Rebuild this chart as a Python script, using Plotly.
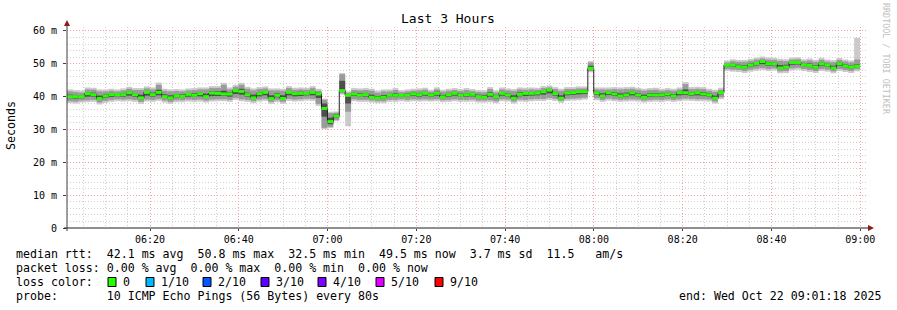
import plotly.graph_objects as go
import pandas as pd

# ---------------- data ----------------
start = pd.Timestamp("2025-10-22 06:01:18")
end = pd.Timestamp("2025-10-22 09:01:18")
step_s = 80

median_ms = [
    40.0, 40.0, 40.0, 40.9, 40.6, 39.4, 40.2, 40.6, 40.6, 40.6, 41.2, 40.6, 39.6, 41.3, 40.6, 41.3, 40.0, 39.6, 40.3, 40.1, 40.7, 40.4, 40.9,
    40.0, 41.1, 41.0, 40.8, 40.8, 41.8, 41.6, 40.6, 39.6, 40.9, 41.3, 39.4, 40.4, 39.4, 41.3, 40.9, 41.0, 41.0, 41.3, 40.8,
    36.4, 32.4, 34.1, 41.8,
    40.4, 40.8, 40.4, 40.6, 39.8, 39.6, 39.8, 40.4, 40.4, 40.4, 40.4, 40.8, 40.6, 41.0, 40.5, 41.0, 39.9, 40.6, 41.0, 40.4, 40.6,
    40.7, 40.0, 39.8, 40.7, 40.0, 41.0, 40.5, 39.5, 40.7, 41.0, 41.0, 41.1, 41.5, 42.0, 40.9, 39.5, 41.1, 41.2, 41.5, 41.5,
    48.6,
    41.1, 40.2,
    41.2, 40.8, 40.2, 40.5, 41.2, 40.5, 39.8, 40.5, 40.5, 40.5, 40.8, 40.2, 41.2, 41.2, 40.9, 41.2, 40.8, 40.5, 39.5, 41.2,
    49.6, 49.6, 49.1, 49.0, 49.6, 50.1, 50.7, 50.0, 50.0, 48.7, 49.0, 50.4, 50.4, 49.6, 49.5, 49.0, 50.0, 49.6, 48.7, 50.0, 49.3, 49.0, 49.3,
]

# outer smoke: slowest / fastest ping relative to the median (ms)
outer_up_ms = [
    2.2, 2.0, 1.8, 1.9, 2.1, 2.8, 2.0, 1.8, 1.6, 1.9, 1.8, 2.0, 3.0, 1.8, 2.2, 3.0, 2.4, 2.6, 2.0, 2.1, 1.8, 2.2, 1.9,
    2.8, 2.1, 2.2, 3.4, 2.0, 1.8, 2.6, 2.4, 2.9, 2.0, 1.8, 3.1, 2.1, 3.0, 1.9, 1.8, 1.8, 1.7, 1.9, 1.6,
    3.0, 3.0, 1.4, 5.4,
    1.2, 1.8, 2.1, 2.0, 2.6, 2.2, 2.4, 1.8, 2.2, 1.6, 1.8, 1.6, 1.9, 1.7, 1.6, 1.8, 2.2, 1.8, 1.6, 1.9, 2.0,
    1.6, 2.0, 2.1, 2.2, 1.9, 1.8, 2.0, 2.8, 2.1, 1.7, 1.8, 1.6, 1.7, 1.4, 2.0, 2.9, 1.8, 1.7, 1.6, 1.6,
    2.2,
    1.7, 2.6,
    1.6, 2.1, 2.6, 2.4, 1.8, 2.2, 2.6, 2.1, 2.2, 1.9, 1.8, 2.2, 1.6, 3.2, 2.0, 1.8, 2.1, 1.9, 2.6, 1.5,
    1.4, 1.8, 2.1, 2.2, 1.9, 1.8, 1.5, 1.9, 1.8, 2.8, 2.4, 1.5, 1.6, 1.8, 2.1, 2.2, 1.8, 1.7, 2.4, 1.8, 2.0, 2.0, 8.6,
]
outer_dn_ms = [
    2.0, 2.1, 1.8, 2.6, 2.2, 1.8, 2.1, 2.2, 2.0, 2.1, 2.6, 2.2, 1.8, 2.8, 2.2, 2.6, 1.8, 1.8, 2.0, 1.8, 2.2, 2.0, 2.4,
    1.8, 2.6, 2.4, 2.2, 2.4, 2.8, 3.0, 2.2, 1.6, 2.4, 2.6, 1.6, 2.1, 1.6, 2.6, 2.4, 2.4, 2.2, 2.6, 3.6,
    6.3, 2.0, 1.6, 1.2,
    9.4, 2.2, 2.0, 2.2, 1.6, 1.6, 1.8, 2.0, 2.0, 1.8, 2.0, 2.2, 2.1, 2.4, 2.0, 2.4, 1.6, 2.2, 2.4, 2.0, 2.2,
    2.2, 1.8, 1.6, 2.4, 2.0, 2.4, 2.0, 1.6, 2.2, 2.6, 2.4, 2.4, 2.8, 3.0, 2.2, 1.4, 2.4, 2.4, 2.6, 2.4,
    1.2,
    2.2, 1.8,
    2.4, 2.2, 1.8, 2.0, 2.6, 2.0, 1.6, 2.1, 2.0, 2.1, 2.2, 1.8, 2.6, 2.4, 2.2, 2.6, 2.2, 2.0, 1.6, 2.0,
    1.8, 2.0, 1.6, 1.8, 2.0, 2.2, 2.6, 2.2, 2.0, 1.6, 1.8, 2.4, 2.2, 1.8, 2.0, 1.8, 2.2, 2.0, 1.6, 2.2, 1.8, 1.8, 1.6,
]
# middle smoke band (ms around the median)
mid_up_ms = [
    1.6, 1.4, 1.2, 1.3, 1.5, 2.2, 1.4, 1.2, 1.0, 1.3, 1.2, 1.4, 2.4, 1.2, 1.6, 2.3, 1.8, 2.0, 1.4, 1.5, 1.2, 1.6, 1.3,
    2.2, 1.5, 1.6, 2.8, 1.4, 1.2, 2.0, 1.8, 2.3, 1.4, 1.2, 2.5, 1.5, 2.4, 1.3, 1.2, 1.2, 1.1, 1.3, 1.0,
    2.6, 2.6, 1.0, 5.0,
    0.8, 1.2, 1.5, 1.4, 2.0, 1.6, 1.8, 1.2, 1.6, 1.0, 1.2, 1.0, 1.3, 1.1, 1.0, 1.2, 1.6, 1.2, 1.0, 1.3, 1.4,
    1.0, 1.4, 1.5, 1.6, 1.3, 1.2, 1.4, 2.2, 1.5, 1.1, 1.2, 1.0, 1.1, 0.8, 1.4, 2.3, 1.2, 1.1, 1.0, 1.0,
    1.8,
    1.1, 2.0,
    1.0, 1.5, 2.0, 1.8, 1.2, 1.6, 2.0, 1.5, 1.6, 1.3, 1.2, 1.6, 1.0, 2.6, 1.4, 1.2, 1.5, 1.3, 2.0, 0.9,
    0.8, 1.2, 1.5, 1.6, 1.3, 1.2, 0.9, 1.3, 1.2, 2.2, 1.8, 0.9, 1.0, 1.2, 1.5, 1.6, 1.2, 1.1, 1.8, 1.2, 1.4, 1.4, 2.0,
]
mid_dn_ms = [
    1.4, 1.5, 1.2, 2.0, 1.6, 1.2, 1.5, 1.6, 1.4, 1.5, 2.0, 1.6, 1.2, 2.2, 1.6, 2.0, 1.2, 1.2, 1.4, 1.2, 1.6, 1.4, 1.8,
    1.2, 2.0, 1.8, 1.6, 1.8, 2.2, 2.4, 1.6, 1.0, 1.8, 2.0, 1.0, 1.5, 1.0, 2.0, 1.8, 1.8, 1.6, 2.0, 3.0,
    5.9, 1.6, 1.2, 0.8,
    5.0, 1.6, 1.4, 1.6, 1.0, 1.0, 1.2, 1.4, 1.4, 1.2, 1.4, 1.6, 1.5, 1.8, 1.4, 1.8, 1.0, 1.6, 1.8, 1.4, 1.6,
    1.6, 1.2, 1.0, 1.8, 1.4, 1.8, 1.4, 1.0, 1.6, 2.0, 1.8, 1.8, 2.2, 2.4, 1.6, 0.8, 1.8, 1.8, 2.0, 1.8,
    0.8,
    1.6, 1.2,
    1.8, 1.6, 1.2, 1.4, 2.0, 1.4, 1.0, 1.5, 1.4, 1.5, 1.6, 1.2, 2.0, 1.8, 1.6, 2.0, 1.6, 1.4, 1.0, 1.4,
    1.2, 1.4, 1.0, 1.2, 1.4, 1.6, 2.0, 1.6, 1.4, 1.0, 1.2, 1.8, 1.6, 1.2, 1.4, 1.2, 1.6, 1.4, 1.0, 1.6, 1.2, 1.2, 1.0,
]
# dense core of the pings around the median (ms)
core_up_ms = [
    0.6, 0.5, 0.4, 0.3, 0.6, 0.9, 0.5, 0.4, 0.3, 0.5, 0.4, 0.5, 1.0, 0.3, 0.6, 0.8, 0.7, 0.8, 0.5, 0.6, 0.4, 0.6, 0.4,
    0.9, 0.5, 0.6, 1.0, 0.5, 0.3, 0.8, 0.6, 1.0, 0.5, 0.4, 1.0, 0.6, 1.0, 0.4, 0.4, 0.5, 0.4, 0.4, 0.4,
    1.5, 1.2, 0.5, 3.0,
    0.4, 0.4, 0.6, 0.5, 0.8, 0.6, 0.7, 0.4, 0.6, 0.4, 0.5, 0.4, 0.5, 0.4, 0.4, 0.5, 0.6, 0.4, 0.3, 0.5, 0.5,
    0.4, 0.6, 0.6, 0.6, 0.5, 0.4, 0.5, 0.9, 0.6, 0.4, 0.4, 0.4, 0.3, 0.3, 0.5, 0.9, 0.4, 0.4, 0.3, 0.4,
    0.8,
    0.4, 0.8,
    0.3, 0.6, 0.8, 0.7, 0.4, 0.6, 0.8, 0.6, 0.6, 0.5, 0.4, 0.6, 0.3, 1.0, 0.5, 0.4, 0.6, 0.5, 0.8, 0.3,
    0.3, 0.4, 0.6, 0.6, 0.5, 0.4, 0.3, 0.5, 0.4, 0.9, 0.7, 0.3, 0.4, 0.4, 0.6, 0.6, 0.4, 0.4, 0.7, 0.4, 0.5, 0.5, 0.6,
]
core_dn_ms = [
    0.5, 0.6, 0.5, 0.9, 0.6, 0.4, 0.6, 0.7, 0.5, 0.6, 0.9, 0.6, 0.4, 1.0, 0.6, 0.9, 0.4, 0.4, 0.5, 0.4, 0.7, 0.5, 0.8,
    0.4, 0.9, 0.8, 0.6, 0.8, 1.0, 1.0, 0.6, 0.3, 0.8, 0.9, 0.3, 0.6, 0.3, 0.9, 0.8, 0.8, 0.6, 0.9, 1.2,
    2.5, 0.8, 0.5, 0.4,
    2.5, 0.6, 0.5, 0.6, 0.3, 0.3, 0.4, 0.5, 0.5, 0.4, 0.5, 0.6, 0.6, 0.7, 0.5, 0.7, 0.3, 0.6, 0.7, 0.5, 0.6,
    0.6, 0.4, 0.3, 0.7, 0.5, 0.7, 0.5, 0.3, 0.6, 0.8, 0.7, 0.7, 0.9, 1.0, 0.6, 0.3, 0.7, 0.7, 0.8, 0.7,
    0.3,
    0.6, 0.4,
    0.7, 0.6, 0.4, 0.5, 0.8, 0.5, 0.3, 0.6, 0.5, 0.6, 0.6, 0.4, 0.8, 0.7, 0.6, 0.8, 0.6, 0.5, 0.3, 0.5,
    0.4, 0.5, 0.3, 0.4, 0.5, 0.6, 0.8, 0.6, 0.5, 0.3, 0.4, 0.7, 0.6, 0.4, 0.5, 0.4, 0.6, 0.5, 0.3, 0.6, 0.4, 0.4, 0.3,
]

y_tick_vals = [0, 10, 20, 30, 40, 50, 60]
y_tick_text = ["0", "10 m", "20 m", "30 m", "40 m", "50 m", "60 m"]

stats_line = "median rtt:  42.1 ms avg  50.8 ms max  32.5 ms min  49.5 ms now  3.7 ms sd  11.5   am/s"
loss_line = "packet loss: 0.00 % avg  0.00 % max  0.00 % min  0.00 % now"
probe_line = "probe:       10 ICMP Echo Pings (56 Bytes) every 80s"
end_line = "end: Wed Oct 22 09:01:18 2025"
loss_labels = ["0", "1/10", "2/10", "3/10", "4/10", "5/10", "9/10"]
loss_colors = ["#26ff00", "#00b8ff", "#0059ff", "#5e00ff", "#7e00ff", "#dd00ff", "#ff0000"]

# ---------------- geometry helpers ----------------
W, H = 897, 310
L, R, T, B = 67, 866, 27, 228
PW, PH = R - L, B - T


def px(xp):
    return (xp - L) / PW


def py(yp):
    return (B - yp) / PH


MONO = "DejaVu Sans Mono"
NB = "\u00a0"

n = len(median_ms)
t = [start + pd.Timedelta(seconds=step_s * i) for i in range(n)]
t_end = [start + pd.Timedelta(seconds=step_s * (i + 1)) for i in range(n)]

fig = go.Figure()


def smoke(up, dn, color):
    fig.add_trace(go.Bar(
        x=t, base=[m - d for m, d in zip(median_ms, dn)],
        y=[u + d for u, d in zip(up, dn)],
        width=step_s * 1000, offset=0, marker=dict(color=color, line=dict(width=0)),
        hoverinfo="skip"))


smoke(outer_up_ms, outer_dn_ms, "#cacaca")
smoke(mid_up_ms, mid_dn_ms, "#9a9a9a")
smoke(core_up_ms, core_dn_ms, "#4e4e4e")

# median black step line
fig.add_trace(go.Scatter(
    x=t + [t_end[-1]], y=median_ms + [median_ms[-1]], mode="lines",
    line=dict(color="#202020", width=1, shape="hv"), hoverinfo="skip"))

# green median segments (loss colour 0)
gx, gy = [], []
for a, b, m in zip(t, t_end, median_ms):
    gx += [a, b, None]
    gy += [m, m, None]
fig.add_trace(go.Scatter(x=gx, y=gy, mode="lines",
                         line=dict(color="#26ff00", width=3), hoverinfo="skip"))

grid_dash = "1px,2px"
major_col = "#f6a0a0"
minor_col = "#cfcfcf"
fig.update_layout(
    width=W, height=H,
    margin=dict(l=L, r=W - R, t=T, b=H - B, pad=0),
    paper_bgcolor="white", plot_bgcolor="white",
    showlegend=False, barmode="overlay",
    font=dict(family=MONO, size=10, color="#000000"),
    xaxis=dict(
        type="date", range=[start, end], tickformat="%H:%M",
        tick0="2025-10-22 06:00:00", dtick=20 * 60 * 1000,
        showgrid=True, gridcolor=major_col, griddash=grid_dash, gridwidth=1,
        minor=dict(dtick=5 * 60 * 1000, tick0="2025-10-22 06:00:00", showgrid=True,
                   gridcolor=minor_col, griddash=grid_dash, gridwidth=1),
        ticks="outside", ticklen=2, tickcolor="#404040", color="#000000",
        showline=False, zeroline=False, fixedrange=True,
        tickfont=dict(family=MONO, size=10, color="#000000"),
    ),
    yaxis=dict(
        range=[0, 61.2], tickvals=y_tick_vals, ticktext=y_tick_text,
        showgrid=True, gridcolor=major_col, griddash=grid_dash, gridwidth=1,
        minor=dict(dtick=2, tick0=0, showgrid=True, gridcolor=minor_col,
                   griddash=grid_dash, gridwidth=1),
        ticks="outside", ticklen=3, tickcolor="#404040", ticklabelstandoff=4, color="#000000",
        showline=False, zeroline=False, fixedrange=True,
        tickfont=dict(family=MONO, size=10, color="#000000"),
    ),
)

shapes = []
# axes lines
shapes.append(dict(type="line", xref="paper", yref="paper", x0=px(L), x1=px(L),
                   y0=py(231), y1=py(24), line=dict(color="#404040", width=1), layer="above"))
shapes.append(dict(type="line", xref="paper", yref="paper", x0=px(64), x1=px(869),
                   y0=py(B), y1=py(B), line=dict(color="#202020", width=1), layer="above"))
# arrows
shapes.append(dict(type="path", xref="paper", yref="paper",
                   path=f"M {px(64)} {py(26)} L {px(70)} {py(26)} L {px(67)} {py(20)} Z",
                   fillcolor="#8b1a1a", line=dict(width=0), layer="above"))
shapes.append(dict(type="path", xref="paper", yref="paper",
                   path=f"M {px(868)} {py(225)} L {px(868)} {py(231)} L {px(874)} {py(228)} Z",
                   fillcolor="#8b1a1a", line=dict(width=0), layer="above"))

# loss colour boxes
box_x = [108, 146, 203, 261, 318, 376, 435]
label_x = [122, 160, 217, 275, 332, 390, 449]
for bx, col in zip(box_x, loss_colors):
    shapes.append(dict(type="rect", xref="paper", yref="paper",
                       x0=px(bx), x1=px(bx + 8), y0=py(286.5), y1=py(277.5),
                       fillcolor=col, line=dict(color="#000000", width=1), layer="above"))
fig.update_layout(shapes=shapes)

ann = []


def text(xp, yp, s, size=11.6, anchor="left", color="#000000", angle=0, yanchor="middle"):
    ann.append(dict(xref="paper", yref="paper", x=px(xp), y=py(yp), text=s.replace(" ", NB),
                    showarrow=False, xanchor=anchor, yanchor=yanchor, textangle=angle,
                    font=dict(family=MONO, size=size, color=color), borderpad=0))


text(448, 19, "Last 3 Hours", size=13, anchor="center")
text(11, 126, "Seconds", size=11.6, anchor="center", angle=-90)
text(886, 59, "RRDTOOL / TOBI OETIKER", size=8.4, anchor="center", color="#c0c0c0", angle=90)
text(15, 254, stats_line)
text(15, 268, loss_line)
text(15, 282, "loss color:")
for lx, lab in zip(label_x, loss_labels):
    text(lx, 282, lab)
text(15, 296, probe_line)
text(882, 296, end_line, anchor="right")
fig.update_layout(annotations=ann)

fig.write_html("out.html", config={"displayModeBar": False, "staticPlot": True})
